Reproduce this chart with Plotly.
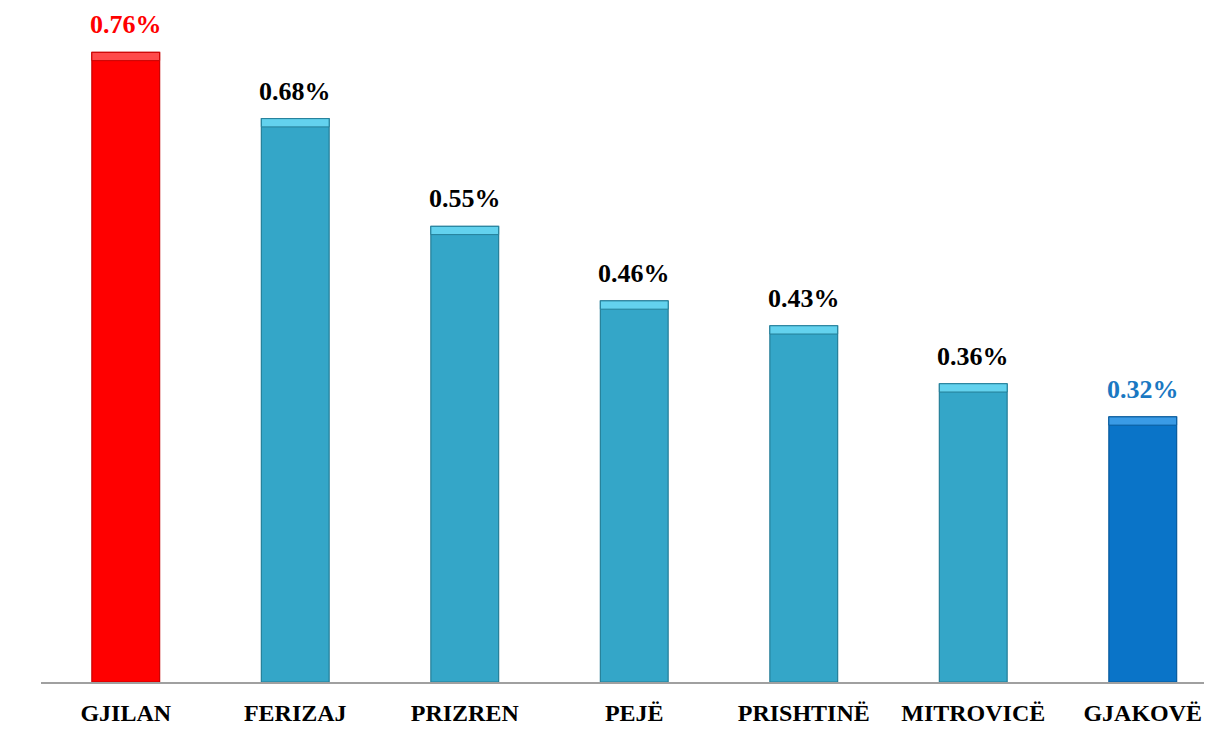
import plotly.graph_objects as go

categories = ["GJILAN", "FERIZAJ", "PRIZREN", "PEJË", "PRISHTINË", "MITROVICË", "GJAKOVË"]
values = [0.76, 0.68, 0.55, 0.46, 0.43, 0.36, 0.32]
labels = ["0.76%", "0.68%", "0.55%", "0.46%", "0.43%", "0.36%", "0.32%"]

bar_colors = ["#FF0000"] + ["#34A6C8"] * 5 + ["#0A74C8"]
cap_colors = ["#FF4A4A"] + ["#63D2EE"] * 5 + ["#3A9BE6"]
edge_colors = ["#C80000"] + ["#247E98"] * 5 + ["#075A9C"]
label_colors = ["#FF0000"] + ["#000000"] * 5 + ["#1A78C2"]

cap = 0.010
font_family = "Liberation Serif, Times New Roman, serif"

fig = go.Figure()
fig.add_trace(go.Bar(
    x=categories, y=values, width=0.40,
    marker=dict(color=bar_colors, line=dict(color=edge_colors, width=1.2)),
    hoverinfo="skip",
))
fig.add_trace(go.Bar(
    x=categories, y=[cap] * len(values), base=[v - cap for v in values], width=0.40,
    marker=dict(color=cap_colors, line=dict(color=edge_colors, width=1)),
    hoverinfo="skip",
))

for c, v, t, col in zip(categories, values, labels, label_colors):
    fig.add_annotation(x=c, y=v, text="<b>%s</b>" % t, showarrow=False,
                       yanchor="bottom", yshift=11,
                       font=dict(family=font_family, size=26, color=col))

fig.update_layout(
    width=1204, height=728,
    margin=dict(l=33, r=0, t=0, b=54),
    paper_bgcolor="white", plot_bgcolor="white",
    barmode="overlay", showlegend=False,
    xaxis=dict(
        range=[-0.5, -0.5 + 1171 / 169.5],
        showline=True, linecolor="#A0A0A0", linewidth=2,
        ticks="", ticklabelstandoff=8,
        tickfont=dict(family=font_family, size=24, color="black"),
        tickvals=categories, ticktext=["<b>%s</b>" % c for c in categories],
        showgrid=False, zeroline=False,
    ),
    yaxis=dict(range=[0, 674 / 828.5], visible=False, showgrid=False, zeroline=False),
)

fig.write_html("out.html")
